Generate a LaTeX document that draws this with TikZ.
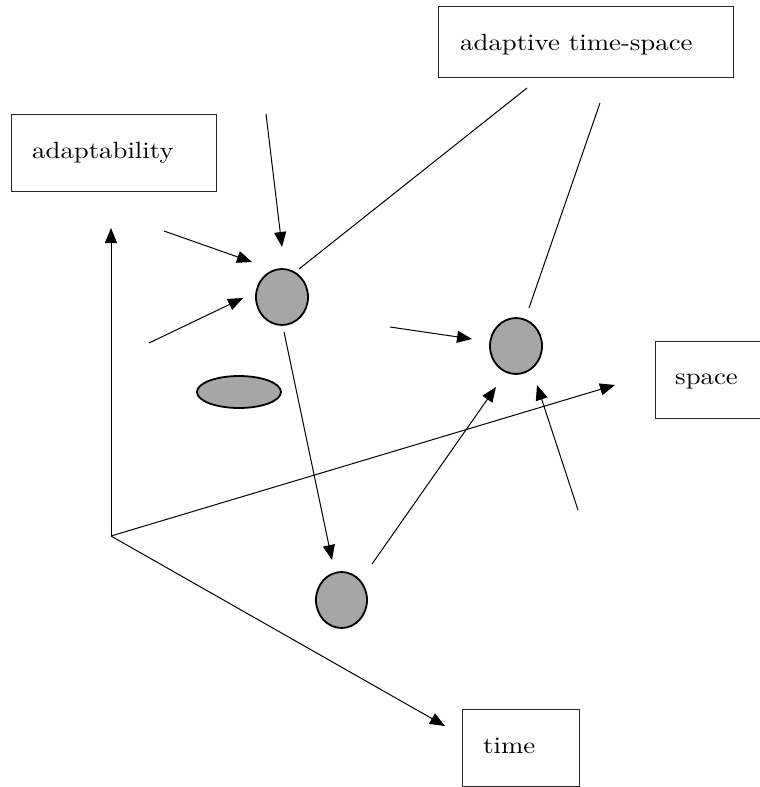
\documentclass[tikz,border=0pt]{standalone}
\usepackage{fontspec}
\usetikzlibrary{arrows.meta,shapes.geometric}
\newcommand{\lbltext}[1]{\scalebox{2.68}[2.35]{\fontsize{10}{12}\selectfont #1}}
\begin{document}
\begin{tikzpicture}[x=1pt,y=-1pt,
  boxshape/.style={draw=black!85, line width=1pt, rectangle, inner sep=0pt},
  lbl/.style={anchor=base west, inner sep=0pt},
  blob/.style={draw=black, line width=1.8pt, fill=blobgray, ellipse, inner sep=0pt},
  conn/.style={line width=1pt},
  arr/.style={line width=1pt, -{Triangle[length=15pt,width=12pt]}}
]
\definecolor{blobgray}{HTML}{A6A6A6}
\useasboundingbox (0,0) rectangle (760,787);
\clip (0,0) rectangle (760,787);

% boxes
\node[boxshape, minimum width=205pt, minimum height=77pt] (adb) at (113.5,152.5) {};
\node[boxshape, minimum width=295pt, minimum height=71pt] (atb) at (585.5,41.5) {};
\node[boxshape, minimum width=120pt, minimum height=77pt] (spb) at (715,379.5) {};
\node[boxshape, minimum width=117pt, minimum height=77pt] (tmb) at (520.5,747.5) {};

% labels
\node[lbl] (adt) at (32,158) {\lbltext{adaptability}};
\node[lbl] (att) at (460,50) {\lbltext{adaptive time-space}};
\node[lbl] (spt) at (675,384) {\lbltext{space}};
\node[lbl] (tmt) at (483,753) {\lbltext{time}};

% blobs
\node[blob, minimum width=52pt, minimum height=56pt] (c1) at (282,297) {};
\node[blob, minimum width=52pt, minimum height=56pt] (c2) at (516,346) {};
\node[blob, minimum width=51pt, minimum height=56pt] (c3) at (341.5,600) {};
\node[blob, minimum width=84pt, minimum height=32pt] (el) at (239,392) {};

% coordinates
\coordinate (o) at (111,536);
\coordinate (upTip) at (111,228);
\coordinate (spTip) at (615,385);
\coordinate (tmTip) at (445,726);

\coordinate (a1s) at (266,114);   \coordinate (a1e) at (282,247);
\coordinate (a2s) at (164,231);   \coordinate (a2e) at (252,262);
\coordinate (a3s) at (149,343);   \coordinate (a3e) at (243,298);
\coordinate (l1s) at (299,269);   \coordinate (l1e) at (527,88);
\coordinate (l2s) at (600,103);   \coordinate (l2e) at (529,308);
\coordinate (a6s) at (284,332);   \coordinate (a6e) at (332,560);
\coordinate (a7s) at (372,564);   \coordinate (a7e) at (496,387);
\coordinate (a8s) at (390,327);   \coordinate (a8e) at (472,339);
\coordinate (a9s) at (578,510);   \coordinate (a9e) at (537,385);

% axes
\draw[arr] (o) -- (upTip);
\draw[arr] (o) -- (spTip);
\draw[arr] (o) -- (tmTip);

% connectors
\draw[arr] (a1s) -- (a1e);
\draw[arr] (a2s) -- (a2e);
\draw[arr] (a3s) -- (a3e);
\draw[conn] (l1s) -- (l1e);
\draw[conn] (l2s) -- (l2e);
\draw[arr] (a6s) -- (a6e);
\draw[arr] (a7s) -- (a7e);
\draw[arr] (a8s) -- (a8e);
\draw[arr] (a9s) -- (a9e);
\end{tikzpicture}
\end{document}
